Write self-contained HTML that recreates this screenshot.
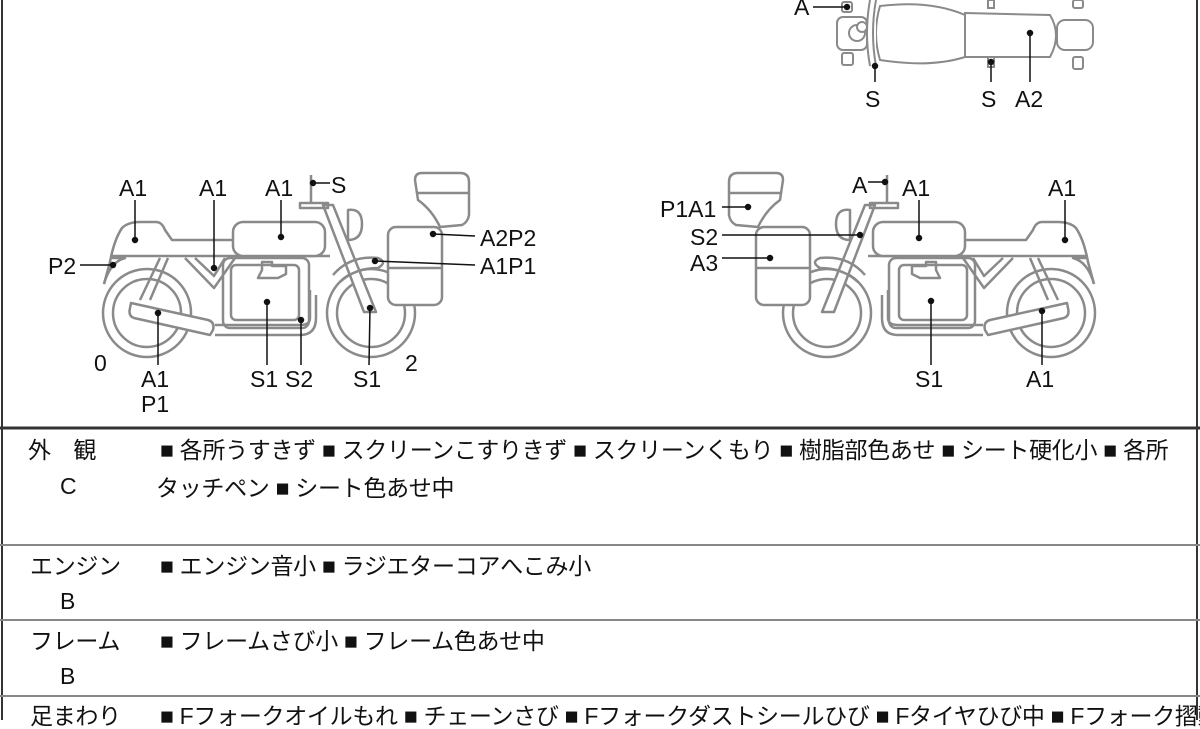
<!DOCTYPE html>
<html><head><meta charset="utf-8"><style>
html,body{margin:0;padding:0;background:#fff;}
body{width:1200px;height:720px;overflow:hidden;position:relative;font-family:"Liberation Sans","Noto Sans CJK JP",sans-serif;}
svg{position:absolute;left:0;top:0;}
.t{position:absolute;font-size:23px;line-height:26px;color:#111;white-space:nowrap;font-family:"Liberation Sans","Noto Sans CJK JP",sans-serif;letter-spacing:-0.3px;}
</style></head><body>
<svg width="1200" height="720" viewBox="0 0 1200 720">
<defs>
<g id="bike" fill="none" stroke="#8a8a8a" stroke-width="2.5" stroke-linejoin="round">
  <circle cx="147" cy="313" r="44"/><circle cx="147" cy="313" r="34"/>
  <circle cx="371" cy="313" r="44"/><circle cx="371" cy="313" r="34"/>
  <path d="M104,284 L110,262 Q114,240 122,228 Q128,222 140,222 L156,222 Q162,222 165,230 L172,240 L236,240"/>
  <path d="M104,284 Q110,262 125,258 L112,258"/>
  <path d="M110,256 L330,256"/>
  <rect x="233" y="222" width="92" height="34" rx="10" fill="#fff"/>
  <path d="M160,258 L140,300 M168,258 L150,300 M185,258 L214,288 L235,258 M195,258 L214,276 L225,258"/>
  <rect x="223" y="258" width="86" height="70" rx="7"/>
  <rect x="231" y="265" width="68" height="55" rx="5"/>
  <path d="M262,270 L262,262 L272,262 L272,266 L286,266 L286,274 L278,278 L258,278 Z"/>
  <path d="M131,303 L208,320 Q215,322 213,330 L210,335 L134,318 Q128,316 130,308 Z" fill="#fff"/>
  <path d="M215,325 L300,325 Q310,325 310,318 L310,290 M215,335 L300,335 Q316,335 316,318 L316,295"/>
  <path d="M323,205 L364,312 L376,312 L333,205 Z" fill="#fff"/>
  <path d="M348,210 Q362,208 362,224 Q362,240 348,240 Z" fill="#fff"/>
  <path d="M300,203 L328,203 L328,208 L300,208 Z"/>
  <path d="M311,175 L311,202"/>
  <path d="M333,275 Q350,255 378,258 Q388,262 378,268 Q355,268 340,282"/>
  <path d="M415,180 Q415,173 422,173 L460,173 Q469,173 469,182 L469,215 Q468,222 462,225 L440,227 Q432,210 418,200 Z" fill="#fff"/>
  <path d="M417,193 L469,193"/>
  <rect x="388" y="227" width="54" height="78" rx="8" fill="#fff"/>
  <path d="M388,268 L442,268"/>
</g>
</defs>
<use href="#bike"/>
<use href="#bike" transform="translate(1198,0) scale(-1,1)"/>
<g fill="#fff" stroke="#8a8a8a" stroke-width="2">
  <path d="M965,13 L1050,15 Q1062,35 1050,57 L965,57 Z"/>
  <path d="M880,6 Q930,0 965,15 L965,57 Q930,68 880,60 Q872,33 880,6 Z"/>
  <rect x="1057" y="20" width="36" height="30" rx="8"/>
  <rect x="837" y="17" width="30" height="33" rx="6"/>
  <circle cx="857" cy="33" r="8"/><circle cx="862" cy="27" r="5"/>
  <path d="M870,0 Q864,33 870,66 M876,0 Q870,33 876,66"/>
  <rect x="842" y="2" width="10" height="10" rx="2"/><rect x="842" y="53" width="11" height="12" rx="2"/>
  <rect x="988" y="0" width="6" height="8"/><rect x="988" y="57" width="6" height="10"/>
  <rect x="1073" y="0" width="10" height="8" rx="2"/><rect x="1073" y="57" width="10" height="12" rx="2"/>
</g>
<g stroke="#111" stroke-width="1.5" fill="#111">
  <path d="M813,7 L847,7 M875,65 L875,82 M991,62 L991,82 M1030,33 L1030,82"/>
  <circle cx="847" cy="7" r="2.5"/><circle cx="875" cy="66" r="2.5"/><circle cx="991" cy="62" r="2.5"/><circle cx="1030" cy="33" r="2.5"/>
  <path d="M135,200 L135,240 M214,200 L214,268 M281,200 L281,237 M330,183 L313,183 M80,265 L113,265 M475,236 L433,234 M475,265 L375,261 M158,365 L158,313 M267,365 L267,302 M301,365 L301,320 M369,365 L370,308"/>
  <circle cx="135" cy="240" r="2.5"/><circle cx="214" cy="268" r="2.5"/><circle cx="281" cy="237" r="2.5"/><circle cx="313" cy="183" r="2.5"/><circle cx="113" cy="265" r="2.5"/><circle cx="433" cy="234" r="2.5"/><circle cx="375" cy="261" r="2.5"/><circle cx="158" cy="313" r="2.5"/><circle cx="267" cy="302" r="2.5"/><circle cx="301" cy="320" r="2.5"/><circle cx="370" cy="308" r="2.5"/>
  <path d="M868,182 L885,182 M919,200 L919,238 M1065,200 L1065,240 M722,207 L748,207 M722,235 L860,235 M722,258 L770,258 M931,365 L931,301 M1042,365 L1042,311"/>
  <circle cx="885" cy="182" r="2.5"/><circle cx="919" cy="238" r="2.5"/><circle cx="1065" cy="240" r="2.5"/><circle cx="748" cy="207" r="2.5"/><circle cx="860" cy="235" r="2.5"/><circle cx="770" cy="258" r="2.5"/><circle cx="931" cy="301" r="2.5"/><circle cx="1042" cy="311" r="2.5"/>
</g>
<g font-family="Liberation Sans, DejaVu Sans, sans-serif" font-size="23" fill="#111">
  <text x="794" y="15">A</text><text x="865" y="107">S</text><text x="981" y="107">S</text><text x="1015" y="107">A2</text>
  <text x="119" y="196">A1</text><text x="199" y="196">A1</text><text x="265" y="196">A1</text><text x="331" y="193">S</text>
  <text x="48" y="274">P2</text><text x="480" y="246">A2P2</text><text x="480" y="274">A1P1</text>
  <text x="94" y="371">0</text><text x="141" y="387">A1</text><text x="141" y="412">P1</text>
  <text x="250" y="387">S1</text><text x="285" y="387">S2</text><text x="353" y="387">S1</text><text x="405" y="371">2</text>
  <text x="852" y="193">A</text><text x="902" y="196">A1</text><text x="1048" y="196">A1</text>
  <text x="660" y="217">P1A1</text><text x="690" y="245">S2</text><text x="690" y="271">A3</text>
  <text x="915" y="387">S1</text><text x="1026" y="387">A1</text>
</g>
<g stroke="#333" fill="none">
  <path d="M2,0 L2,720 M1197,0 L1197,720" stroke-width="2"/>
  <path d="M0,428 L1200,428" stroke-width="3"/>
  <path d="M0,545 L1200,545 M0,620 L1200,620 M0,696 L1200,696" stroke="#888" stroke-width="2"/>
</g>
</svg>
<div class="t" style="left:28px;top:437px;">外　観</div>
<div class="t" style="left:60px;top:473px;">C</div>
<div class="t" style="left:160px;top:437px;">■ 各所うすきず ■ スクリーンこすりきず ■ スクリーンくもり ■ 樹脂部色あせ ■ シート硬化小 ■ 各所</div>
<div class="t" style="left:156px;top:475px;">タッチペン ■ シート色あせ中</div>
<div class="t" style="left:30px;top:553px;">エンジン</div>
<div class="t" style="left:60px;top:588px;">B</div>
<div class="t" style="left:160px;top:553px;">■ エンジン音小 ■ ラジエターコアへこみ小</div>
<div class="t" style="left:30px;top:628px;">フレーム</div>
<div class="t" style="left:60px;top:663px;">B</div>
<div class="t" style="left:160px;top:628px;">■ フレームさび小 ■ フレーム色あせ中</div>
<div class="t" style="left:30px;top:703px;">足まわり</div>
<div class="t" style="left:160px;top:703px;">■ Fフォークオイルもれ ■ チェーンさび ■ Fフォークダストシールひび ■ Fタイヤひび中 ■ Fフォーク摺動部</div>
</body></html>
